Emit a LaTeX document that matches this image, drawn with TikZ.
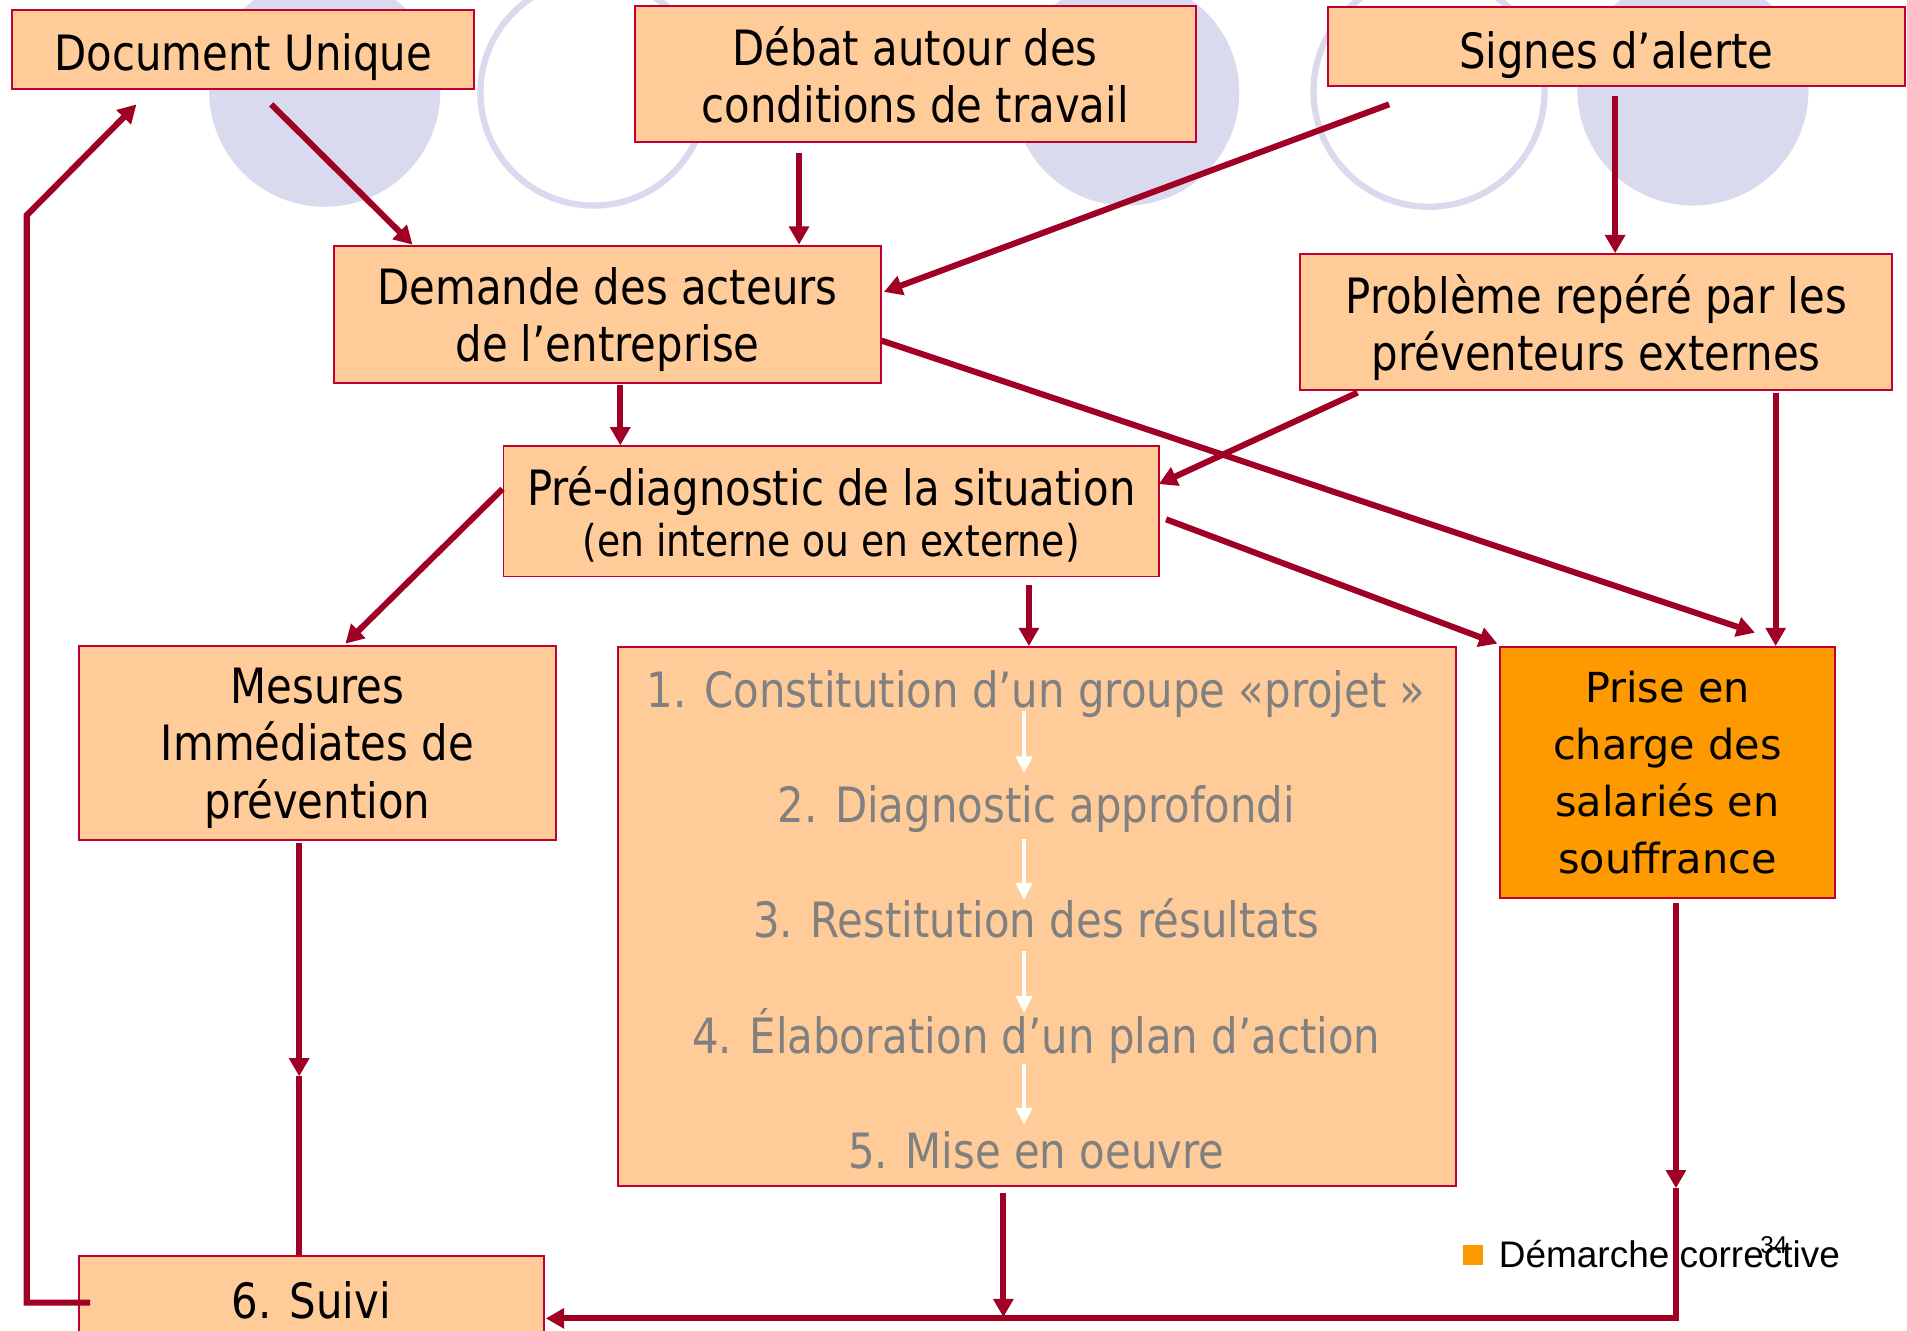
\documentclass[tikz,border=0pt]{standalone}
\usepackage{fontspec}
\setmainfont{DejaVu Sans}[FakeStretch=0.86]
\newfontfamily\wideff{DejaVu Sans}
\newfontfamily\arialff{Liberation Sans}
\usetikzlibrary{arrows.meta}
\definecolor{boxfill}{HTML}{FFCC99}
\definecolor{boxline}{HTML}{C00030}
\definecolor{arrred}{HTML}{A00024}
\definecolor{lav}{HTML}{DADAEE}
\definecolor{orangebox}{HTML}{FF9900}
\definecolor{stepgray}{HTML}{808080}
\begin{document}
\begin{tikzpicture}[x=0.5pt,y=-0.5pt,
 box/.style={draw=boxline, fill=boxfill, line width=0.8pt, inner sep=0pt, align=center,
   font=\fontsize{20}{23.5}\selectfont,
   execute at begin node={\rule{0pt}{22.5pt}},
   execute at end node={\rule[-5pt]{0pt}{0pt}}},
 multi/.style={text depth=0pt},
 arr/.style={draw=arrred, line width=2.5pt, line join=miter, -{Triangle[length=7.5pt,width=8pt]}},
 plainline/.style={draw=arrred, line width=2.5pt},
 warr/.style={draw=white, line width=2pt, -{Triangle[length=7pt,width=6.5pt]}},
 steptxt/.style={text=stepgray, anchor=base, inner sep=0pt, font=\fontsize{20}{23.5}\selectfont}]
\useasboundingbox (0,0) rectangle (1568,1094);
\clip (0,0) rectangle (1568,1094);
% background circles
\fill[lav] (267,75) circle[radius=47.5pt];
\draw[lav, line width=2.6pt] (488,76) circle[radius=46.5pt];
\fill[lav] (926,76) circle[radius=46.5pt];
\draw[lav, line width=2.6pt] (1175,75) circle[radius=47.5pt];
\fill[lav] (1392,74) circle[radius=47.5pt];
% boxes
\node[box, minimum width=190pt, minimum height=32.5pt] (du) at (200,40.5) {Document Unique};
\node[box, multi, minimum width=230.5pt, minimum height=56pt] (debat) at (752.5,61) {Débat autour des\\conditions de travail};
\node[box, minimum width=237pt, minimum height=32.5pt] (signes) at (1329,38.5) {Signes d’alerte};
\node[box, multi, minimum width=224.5pt, minimum height=56.5pt] (demande) at (499.5,258.5) {Demande des acteurs\\de l’entreprise};
\node[box, multi, minimum width=243.5pt, minimum height=56pt] (probleme) at (1312.5,265) {Problème repéré par les\\préventeurs externes};
\node[box, multi, minimum width=269.5pt, minimum height=53.5pt] (prediag) at (683.5,420.5) {Pré-diagnostic de la situation\\[-2.5pt]{\fontsize{18}{21}\selectfont (en interne ou en externe)}};
\node[box, multi, minimum width=196pt, minimum height=80pt] (mesures) at (261,611) {Mesures\\Immédiates de\\prévention};
\node[box, minimum width=344.5pt, minimum height=221.5pt] (steps) at (852.5,753.5) {};
\node[box, multi, fill=orangebox, minimum width=138pt, minimum height=103pt, font=\wideff\fontsize{17}{23.5}\selectfont] (prise) at (1371,635) {Prise en\\charge des\\salariés en\\souffrance};
\node[box, minimum width=191pt, minimum height=33.5pt] (suivi) at (256,1066.5) {6. Suivi};
% steps text
\node[steptxt] (s1) at (852,582) {1. Constitution d’un groupe «projet »};
\node[steptxt] (s2) at (852,676) {2. Diagnostic approfondi};
\node[steptxt] (s3) at (852,771) {3. Restitution des résultats};
\node[steptxt] (s4) at (852,866) {4. Élaboration d’un plan d’action};
\node[steptxt] (s5) at (852,961) {5. Mise en oeuvre};
\draw[warr] ([shift={(-10,3)}]s1.base) -- ([shift={(-10,-40)}]s2.base);
\draw[warr] ([shift={(-10,14)}]s2.base) -- ([shift={(-10,-31)}]s3.base);
\draw[warr] ([shift={(-10,11)}]s3.base) -- ([shift={(-10,-33)}]s4.base);
\draw[warr] ([shift={(-10,9)}]s4.base) -- ([shift={(-10,-36)}]s5.base);
% legend
\fill[orangebox] (1203,1024) rectangle (1219,1040);
\node[anchor=base west, inner sep=0pt, font=\arialff\fontsize{15.2}{18}\selectfont] (legend) at (1232,1042) {Démarche corrective};
\node[anchor=base west, inner sep=0pt, font=\arialff\fontsize{10}{12}\selectfont] (pagenum) at (1447,1031) {34};
% connectors
\draw[arr] ([shift={(23,12)}]du.south) -- ([shift={(65,0)}]demande.north west);
\draw[arr] ([shift={(-95.5,8)}]debat.south) -- ([shift={(157.5,0)}]demande.north);
\draw[arr] ([shift={(51,14)}]signes.south west) -- ([shift={(2,-18.5)}]demande.east);
\draw[arr] ([shift={(-1,7)}]signes.south) -- ([shift={(15.5,0)}]probleme.north);
\draw[arr] ([shift={(10.5,1)}]demande.south) -- ([shift={(-173.5,0)}]prediag.north);
\draw[arr] ([shift={(0,21.5)}]demande.east) -- ([shift={(72,-11)}]prise.north);
\draw[arr] ([shift={(48,1)}]probleme.south west) -- ([shift={(-1,-22.5)}]prediag.east);
\draw[arr] ([shift={(147.5,1)}]probleme.south) -- ([shift={(89,0)}]prise.north);
\draw[arr] ([shift={(0,-18.5)}]prediag.west) -- ([shift={(23,-1)}]mesures.north);
\draw[arr] ([shift={(162.5,6)}]prediag.south) -- ([shift={(-6.5,0)}]steps.north);
\draw[arr] ([shift={(5,6.5)}]prediag.east) -- ([shift={(-1,-2)}]prise.north west);
\coordinate (m1) at (246,885);
\draw[arr] ([shift={(-15,1)}]mesures.south) -- (m1);
\draw[plainline] (m1) -- ([shift={(-10,0)}]suivi.north);
\coordinate (p1) at (1378,977);
\coordinate (p2) at (1378,1084);
\draw[arr] ([shift={(7,4)}]prise.south) -- (p1);
\draw[arr] (p1) -- (p2) -- ([shift={(1,17.5)}]suivi.east);
\coordinate (q1) at (825,1083);
\draw[arr] ([shift={(-27.5,5)}]steps.south) -- (q1);
\coordinate (c1) at (22,1071);
\coordinate (c2) at (22,177);
\draw[arr] ([shift={(10,4.5)}]suivi.west) -- (c1) -- (c2) -- ([shift={(103,12)}]du.south west);
\end{tikzpicture}
\end{document}
